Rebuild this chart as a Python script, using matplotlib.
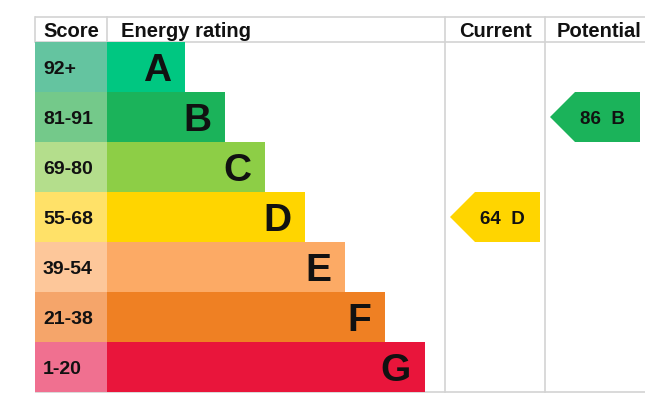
import matplotlib
matplotlib.use("Agg")
import matplotlib.pyplot as plt
from matplotlib.patches import Polygon

# ---- data ----
ratings = ["A", "B", "C", "D", "E", "F", "G"]
score_ranges = ["92+", "81-91", "69-80", "55-68", "39-54", "21-38", "1-20"]
band_low = [92, 81, 69, 55, 39, 21, 1]
bar_colors = ["#00c781", "#1bb35a", "#8dce46", "#ffd500", "#fcaa65", "#ef8023", "#e9153b"]
score_colors = ["#64c4a0", "#74c98a", "#b4de8c", "#ffe168", "#fdc79a", "#f5a56a", "#f07090"]
headers = ["Score", "Energy rating", "Current", "Potential"]
current_score = 64
potential_score = 86

# ---- layout (pixels) ----
W, H = 645, 419
DPI = 100
left, score_w = 35, 72
bar_x0 = left + score_w
top, head_h, row_h = 17, 25, 50
bar_base, bar_step = 78, 40
cur_x0, pot_x0, right = 445, 545, 645
grid_col = "#d3d3d3"
FONT = "Liberation Sans"
TXT = "#111111"


def band_index(score):
    for i, lo in enumerate(band_low):
        if score >= lo:
            return i
    return len(band_low) - 1


def cap_px(pt):
    return 0.716 * pt * DPI / 72


fig = plt.figure(figsize=(W / DPI, H / DPI), dpi=DPI)
ax = fig.add_axes([0, 0, 1, 1])
ax.set_xlim(0, W)
ax.set_ylim(H, 0)
ax.axis("off")

y0 = top + head_h
n = len(ratings)
row_centers = [y0 + row_h * (i + 0.5) for i in range(n)]
bottom = y0 + row_h * n

# grid lines (under the bars)
lw = 1.2
for y in (top, y0, bottom):
    ax.plot([left, right], [y, y], color=grid_col, lw=lw, solid_capstyle="butt", zorder=0)
ax.plot([left, left], [top, y0], color=grid_col, lw=lw, zorder=0)
ax.plot([bar_x0, bar_x0], [top, y0], color=grid_col, lw=lw, zorder=0)
for x in (cur_x0, pot_x0):
    ax.plot([x, x], [top, bottom], color=grid_col, lw=lw, zorder=0)

# score column
ax.barh(row_centers, [score_w] * n, height=row_h, left=left, color=score_colors, linewidth=0, zorder=2)
# rating bars
widths = [bar_base + bar_step * i for i in range(n)]
ax.barh(row_centers, widths, height=row_h, left=bar_x0, color=bar_colors, linewidth=0, zorder=2)

# headers
hs = 14.5
hb = top + head_h / 2 + cap_px(hs) / 2
ax.text(left + 8, hb, headers[0], fontsize=hs, fontweight="bold", family=FONT, va="baseline", ha="left", color=TXT)
ax.text(bar_x0 + 14, hb, headers[1], fontsize=hs, fontweight="bold", family=FONT, va="baseline", ha="left", color=TXT)
ax.text((cur_x0 + pot_x0) / 2, hb, headers[2], fontsize=hs, fontweight="bold", family=FONT, va="baseline", ha="center", color=TXT)
ax.text(599, hb, headers[3], fontsize=hs, fontweight="bold", family=FONT, va="baseline", ha="center", color=TXT)

# score labels and letters
ss, ls = 14, 28
for i in range(n):
    cy = row_centers[i]
    ax.text(left + 8, cy + cap_px(ss) / 2, score_ranges[i], fontsize=ss, fontweight="bold",
            family=FONT, va="baseline", ha="left", color=TXT, zorder=3)
    ax.text(bar_x0 + widths[i] - 14, cy + cap_px(ls) / 2, ratings[i], fontsize=ls, fontweight="bold",
            family=FONT, va="baseline", ha="right", color=TXT, zorder=3)


# arrows
def arrow(x_tip, x_end, score):
    i = band_index(score)
    cy = row_centers[i]
    h = row_h / 2
    tip = 25
    poly = Polygon([(x_tip, cy), (x_tip + tip, cy - h), (x_end, cy - h), (x_end, cy + h), (x_tip + tip, cy + h)],
                   closed=True, facecolor=bar_colors[i], edgecolor="none", zorder=2)
    ax.add_patch(poly)
    ts = 13.5
    ax.text((x_tip + x_end) / 2 + 7, cy + cap_px(ts) / 2, f"{score}  {ratings[i]}", fontsize=ts,
            fontweight="bold", family=FONT, va="baseline", ha="center", color=TXT, zorder=3)


arrow(cur_x0 + 5, pot_x0 - 5, current_score)
arrow(pot_x0 + 5, right - 5, potential_score)

fig.savefig("out.png", dpi=DPI)
